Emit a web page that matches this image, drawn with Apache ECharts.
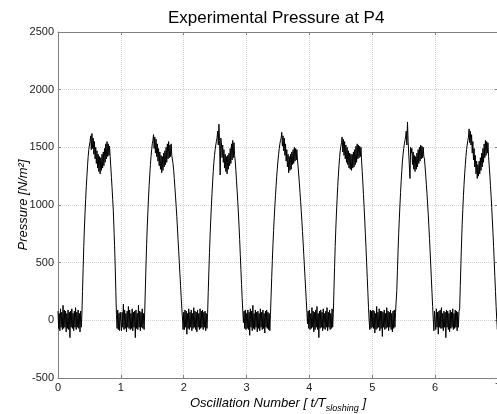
<!DOCTYPE html>
<html>
<head>
<meta charset="utf-8">
<script src="https://cdn.jsdelivr.net/npm/echarts@6/dist/echarts.min.js"></script>
<style>
    html, body { margin: 0; padding: 0; background: #fff; }
    #p4_chart { width: 497px; height: 414px; }
</style>
</head>
<body>
<div id="p4_chart"></div>
<script>
    // sample spacing of the record, in oscillation numbers
    var sampleStep = 0.01;

    // pressure readings [N/m2], one per sample, one row per oscillation
    var pressure0 = [
        80, -70, 60, -90, 100, -60, 70, -80, 130, -70, 90, -60, 80, -100, 60, -70, 90, -80, 70, -150,
        80, -60, 100, -70, 60, -90, 80, -60, 110, -80, 70, -60, 90, -70, 60, -100, 80, -60,
        50, 250, 450, 640, 800, 930, 1050, 1160, 1250, 1340, 1420, 1480, 1520, 1550,
        1600, 1480, 1620, 1490, 1580, 1440, 1550, 1400, 1500, 1360, 1470, 1320, 1440, 1290, 1420, 1270,
        1410, 1300, 1440, 1320, 1460, 1340, 1490, 1370, 1530, 1400, 1550, 1420, 1530, 1430, 1510,
        1420, 1330, 1240, 1150, 1050, 950, 800, 650, 470, 250, 50,
        -70, 90, -80, 60, -90, 70];
    var pressure1 = [
        80, -90, 70, -60, 140, -80, 90, -70, 60, -100, 80, -60, 120, -70, 90, -80, 60, -70, 100, -90,
        70, -60, 80, -150, 90, -70, 60, -80, 130, -60, 80, -90, 70, -60, 100, -70, 60, -80,
        80, 280, 480, 660, 810, 940, 1060, 1170, 1260, 1350, 1420, 1480, 1530, 1560,
        1610, 1490, 1590, 1450, 1570, 1420, 1530, 1380, 1490, 1340, 1460, 1310, 1430, 1280, 1420,
        1300, 1450, 1330, 1470, 1350, 1500, 1370, 1530, 1400, 1550, 1410, 1520, 1420, 1530, 1430,
        1420, 1360, 1300, 1230, 1150, 1070, 990, 900, 800, 700, 600, 500, 400, 300, 200, 100, 20,
        -80];
    var pressure2 = [
        70, -80, 90, -60, 80, -120, 60, -70, 100, -80, 70, -60, 90, -90, 60, -70, 110, -60, 80, -80,
        70, -100, 90, -60, 60, -80, 100, -70, 80, -60, 90, -80, 70, -60, 80, -90, 60, -70,
        60, 240, 420, 590, 740, 870, 990, 1100, 1200, 1290, 1370, 1430, 1480, 1520, 1550, 1580,
        1640, 1520, 1700, 1560, 1260, 1580, 1540, 1410, 1520, 1370, 1480, 1320, 1440, 1290,
        1420, 1270, 1430, 1310, 1450, 1340, 1490, 1360, 1530, 1390, 1560, 1410, 1540, 1430,
        1380, 1300, 1210, 1120, 1030, 930, 820, 700, 570, 440, 310, 190, 80, -20,
        80, -70, 90, -80];
    var pressure3 = [
        60, -70, 90, -80, 70, -130, 100, -60, 80, -90, 130, -70, 60, -80, 90, -60, 70, -100, 80, -70,
        60, -90, 100, -60, 70, -80, 90, -70, 60, -110, 80, -60, 90, -70, 70, -80, 60, -90,
        50, 210, 370, 520, 660, 780, 890, 990, 1080, 1170, 1250, 1320, 1390, 1440, 1490, 1530, 1560, 1580,
        1630, 1510, 1600, 1470, 1580, 1430, 1530, 1380, 1480, 1330, 1440, 1280, 1420,
        1300, 1440, 1310, 1460, 1350, 1480, 1360, 1500, 1380, 1490, 1390, 1480,
        1390, 1330, 1260, 1190, 1110, 1030, 950, 860, 770, 670, 570, 470, 370, 270, 170, 70, -30,
        80, -70];
    var pressure4 = [
        90, -80, 60, -70, 110, -60, 80, -100, 70, -80, 90, -60, 120, -80, 60, -150, 80, -70, 90, -60,
        70, -90, 100, -70, 60, -80, 80, -60, 110, -90, 70, -60, 90, -80, 60, -70, 100, -60,
        60, 260, 460, 640, 800, 930, 1050, 1160, 1250, 1340, 1410, 1470, 1510, 1540,
        1590, 1460, 1570, 1430, 1550, 1400, 1520, 1370, 1500, 1350, 1470, 1320, 1450, 1310, 1440, 1300,
        1440, 1320, 1460, 1330, 1480, 1350, 1510, 1370, 1530, 1400, 1520, 1410, 1510, 1420, 1500,
        1380, 1290, 1190, 1090, 980, 870, 750, 630, 500, 370, 240, 110, 0,
        -80, 90, -70, 80];
    var pressure5 = [
        -60, 90, -70, 80, -110, 60, -80, 120, -70, 70, -60, 100, -90, 80, -70, 80, -140, 70, -60, 90,
        -80, 60, -70, 110, -60, 80, -90, 70, -60, 90, -80, 60, -100, 80, -70, 90, -60, 70,
        80, 260, 430, 600, 750, 880, 1000, 1110, 1210, 1300, 1380, 1440, 1490, 1530, 1560, 1590,
        1640, 1520, 1720, 1550, 1560, 1540, 1230, 1500, 1450, 1490, 1350, 1460, 1310, 1430, 1290,
        1420, 1310, 1450, 1330, 1480, 1360, 1500, 1380, 1520, 1400, 1510, 1410, 1500, 1420,
        1400, 1330, 1260, 1180, 1100, 1010, 920, 820, 710, 600, 480, 360, 240, 120, 10,
        -90, 80];
    var pressure6 = [
        70, -80, 100, -60, 70, -120, 80, -60, 90, -70, 110, -70, 60, -90, 80, -60, 70, -150, 90, -60,
        80, -80, 60, -100, 90, -70, 70, -60, 100, -80, 60, -70, 90, -60, 80, -90, 70, -60, 80,
        100, 300, 490, 670, 830, 960, 1080, 1180, 1270, 1350, 1420, 1480, 1520, 1560, 1590,
        1660, 1540, 1640, 1520, 1610, 1450, 1550, 1390, 1490, 1330, 1430, 1270, 1380, 1230, 1350, 1250,
        1380, 1270, 1410, 1300, 1450, 1330, 1490, 1370, 1530, 1410, 1560, 1430, 1550, 1450, 1540,
        1420, 1340, 1260, 1170, 1080, 980, 870, 760, 640, 510, 380, 250, 120, 10,
        -80, 70];

    var pressure = [].concat(pressure0, pressure1, pressure2, pressure3, pressure4, pressure5, pressure6);

    var seriesData = [];
    for (var i = 0; i < pressure.length; i++) {
        seriesData.push([+(i * sampleStep).toFixed(2), pressure[i]]);
    }

    var axisGray = '#808080';
    var gridLine = { show: true, lineStyle: { color: '#d2d2d2', type: 'dotted', width: 1 } };

    var option = {
        animation: false,
        backgroundColor: '#fff',
        textStyle: { fontFamily: 'Liberation Sans' },
        title: {
            text: 'Experimental Pressure at P4',
            left: 163,
            top: 5,
            textStyle: {
                color: '#000',
                fontSize: 17,
                fontWeight: 'normal',
                fontFamily: 'Liberation Sans'
            }
        },
        grid: { left: 58, right: -1, top: 32, bottom: 36, outerBoundsMode: 'none' },
        xAxis: [{
            type: 'value',
            min: 0,
            max: 7,
            interval: 1,
            position: 'bottom',
            name: '{a|Oscillation Number [ t/T}{s|sloshing}{a| ]}',
            nameLocation: 'middle',
            nameGap: 17,
            nameMoveOverlap: false,
            nameTextStyle: {
                rich: {
                    a: { fontSize: 13, fontStyle: 'italic', color: '#000', fontFamily: 'Liberation Sans', lineHeight: 16 },
                    s: { fontSize: 9, fontStyle: 'italic', color: '#000', fontFamily: 'Liberation Sans', lineHeight: 16, padding: [10, 0, 0, 0] }
                }
            },
            axisLine: { show: true, onZero: false, lineStyle: { color: axisGray } },
            axisTick: { show: true, inside: true, length: 3, lineStyle: { color: axisGray } },
            axisLabel: { color: '#222', fontSize: 11, margin: 4, alignMaxLabel: 'center' },
            splitLine: gridLine
        }, {
            type: 'value',
            min: 0,
            max: 7,
            interval: 1,
            position: 'top',
            axisLine: { show: true, onZero: false, lineStyle: { color: axisGray } },
            axisTick: { show: true, inside: true, length: 3, lineStyle: { color: axisGray } },
            axisLabel: { show: false },
            splitLine: { show: false }
        }],
        yAxis: [{
            type: 'value',
            min: -500,
            max: 2500,
            interval: 500,
            position: 'left',
            name: 'Pressure [N/m\u00b2]',
            nameLocation: 'middle',
            nameGap: 28,
            nameMoveOverlap: false,
            nameTextStyle: { fontSize: 13, fontStyle: 'italic', color: '#000', fontFamily: 'Liberation Sans' },
            axisLine: { show: true, onZero: false, lineStyle: { color: axisGray } },
            axisTick: { show: true, inside: true, length: 3, lineStyle: { color: axisGray } },
            axisLabel: {
                color: '#222', fontSize: 11, margin: 4,
                formatter: function (v) { return String(v); }
            },
            splitLine: gridLine
        }, {
            type: 'value',
            min: -500,
            max: 2500,
            interval: 500,
            position: 'right',
            axisLine: { show: true, onZero: false, lineStyle: { color: axisGray } },
            axisTick: { show: true, inside: true, length: 3, lineStyle: { color: axisGray } },
            axisLabel: { show: false },
            splitLine: { show: false }
        }],
        series: [{
            name: 'P4',
            type: 'line',
            xAxisIndex: 0,
            yAxisIndex: 0,
            showSymbol: false,
            lineStyle: { color: '#000', width: 1 },
            data: seriesData
        }]
    };

    var chartP4 = echarts.init(document.getElementById('p4_chart'));
    chartP4.setOption(option);
    window.addEventListener('resize', function () {
        chartP4.resize();
    });
</script>
</body>
</html>
